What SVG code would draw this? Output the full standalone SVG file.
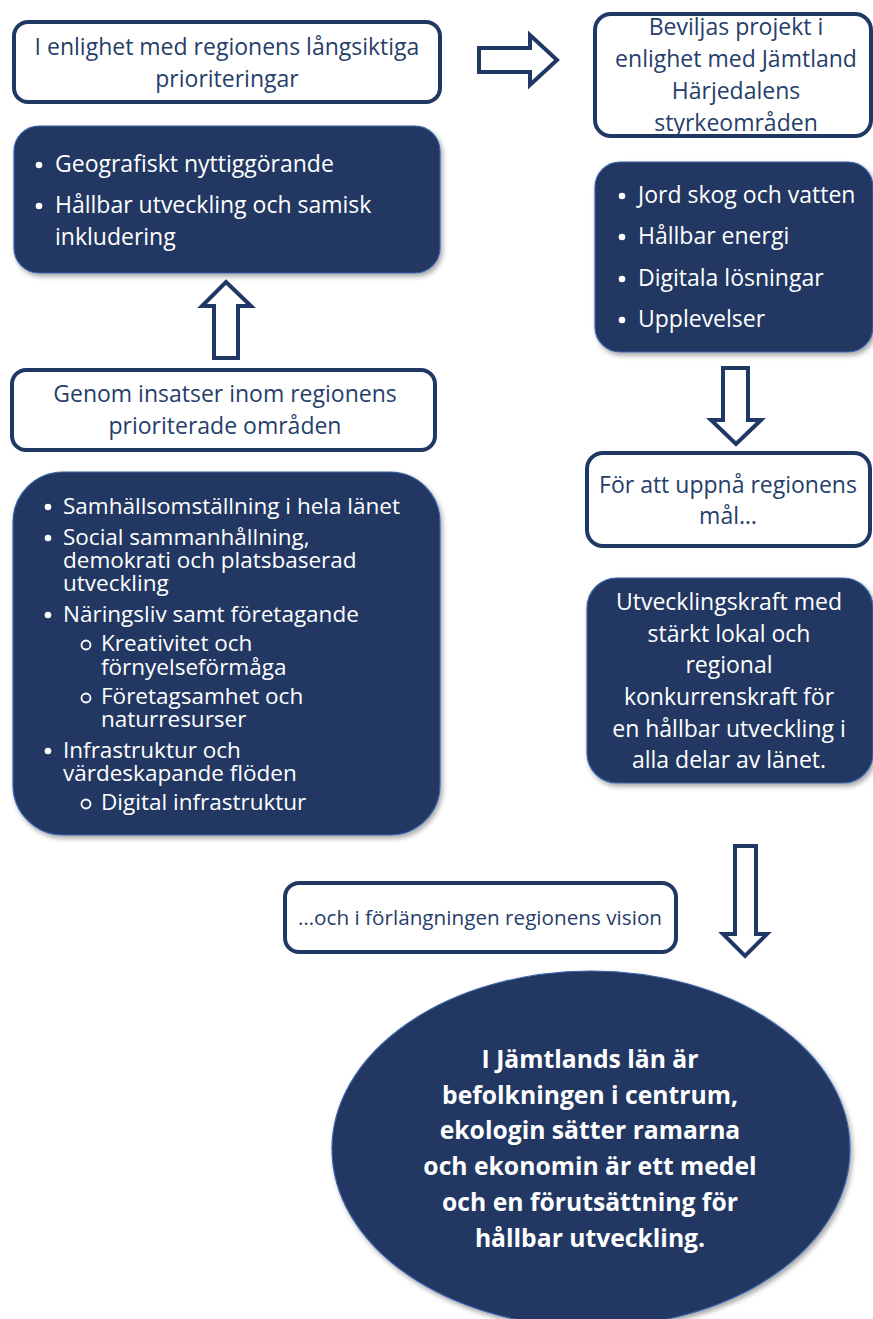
<svg xmlns="http://www.w3.org/2000/svg" width="873" height="1319" viewBox="0 0 873 1319">
<defs>
<filter id="sh" x="-10%" y="-10%" width="125%" height="125%">
<feDropShadow dx="2" dy="3" stdDeviation="2.5" flood-color="#000" flood-opacity="0.35"/>
</filter>
<style>
.wb{fill:#fff;stroke:#203864;stroke-width:4}
.db{fill:#203864;stroke:#3a63a8;stroke-width:1.2;filter:url(#sh)}
.ar{fill:#fff;stroke:#203864;stroke-width:4;stroke-linejoin:miter}
.tw{font-family:"Open Sans",Lato,sans-serif;font-size:23px;fill:#263e69}
.tl{font-family:"Open Sans",Lato,sans-serif;font-size:23px;fill:#fff}
.ts{font-size:22.5px}
.c{text-anchor:middle}
.tb{font-family:"Open Sans",Lato,sans-serif;font-size:24.7px;font-weight:bold;fill:#fff;text-anchor:middle}
.bu{fill:#fff}
.sb{fill:none;stroke:#fff;stroke-width:1.8}
</style>
</defs>
<g id="connectors">
<path class="ar" d="M479,48 H530 V35 L557,60 L530,85 V72 H479 Z"/>
<path class="ar" d="M226,282 L251,306 H238 V358 H214 V306 H202 Z"/>
<path class="ar" d="M723,368 H748 V420 H761 L736,444 L711,420 H723 Z"/>
<path class="ar" d="M735,846 H756 V934 H767 L745,956 L723,934 H735 Z"/>
</g>
<g id="n1">
<rect class="wb" x="14" y="22" width="426" height="80" rx="14"/>
<text class="tw c" x="227" y="55">I enlighet med regionens långsiktiga</text>
<text class="tw c" x="227" y="87">prioriteringar</text>
</g>
<g id="n2">
<rect class="db" x="14" y="126" width="426" height="147" rx="25"/>
<circle class="bu" cx="39" cy="165" r="3.3"/><text class="tl" x="55" y="172">Geografiskt nyttiggörande</text>
<circle class="bu" cx="39" cy="206" r="3.3"/><text class="tl" x="55" y="213">Hållbar utveckling och samisk</text>
<text class="tl" x="55" y="245">inkludering</text>
</g>
<g id="n3">
<rect class="wb" x="595" y="14" width="276" height="122" rx="16"/>
<text class="tw c" x="736" y="35">Beviljas projekt i</text>
<text class="tw c" x="736" y="67">enlighet med Jämtland</text>
<text class="tw c" x="736" y="99">Härjedalens</text>
<text class="tw c" x="736" y="131">styrkeområden</text>
</g>
<g id="n4">
<rect class="db" x="595" y="162" width="278" height="190" rx="25"/>
<circle class="bu" cx="622" cy="196" r="3.3"/><text class="tl" x="638" y="203">Jord skog och vatten</text>
<circle class="bu" cx="622" cy="237" r="3.3"/><text class="tl" x="638" y="244">Hållbar energi</text>
<circle class="bu" cx="622" cy="279" r="3.3"/><text class="tl" x="638" y="286">Digitala lösningar</text>
<circle class="bu" cx="622" cy="320" r="3.3"/><text class="tl" x="638" y="327">Upplevelser</text>
</g>
<g id="n5">
<rect class="wb" x="12" y="370" width="423" height="80" rx="14"/>
<text class="tw c" x="225" y="402">Genom insatser inom regionens</text>
<text class="tw c" x="225" y="434">prioriterade områden</text>
</g>
<g id="n6">
<rect class="db" x="13" y="472" width="427" height="363" rx="50"/>
<circle class="bu" cx="48" cy="507" r="3.3"/><text class="tl ts" x="63" y="514">Samhällsomställning i hela länet</text>
<circle class="bu" cx="48" cy="538" r="3.3"/><text class="tl ts" x="63" y="545">Social sammanhållning,</text>
<text class="tl ts" x="63" y="568">demokrati och platsbaserad</text>
<text class="tl ts" x="63" y="591">utveckling</text>
<circle class="bu" cx="48" cy="615" r="3.3"/><text class="tl ts" x="63" y="622">Näringsliv samt företagande</text>
<circle class="sb" cx="86" cy="645" r="4.5"/><text class="tl ts" x="101" y="651">Kreativitet och</text>
<text class="tl ts" x="101" y="675">förnyelseförmåga</text>
<circle class="sb" cx="86" cy="698" r="4.5"/><text class="tl ts" x="101" y="704">Företagsamhet och</text>
<text class="tl ts" x="101" y="727">naturresurser</text>
<circle class="bu" cx="48" cy="751" r="3.3"/><text class="tl ts" x="63" y="758">Infrastruktur och</text>
<text class="tl ts" x="63" y="781">värdeskapande flöden</text>
<circle class="sb" cx="86" cy="804" r="4.5"/><text class="tl ts" x="101" y="810">Digital infrastruktur</text>
</g>
<g id="n7">
<rect class="wb" x="587" y="453" width="283" height="93" rx="16"/>
<text class="tw c" x="728" y="493">För att uppnå regionens</text>
<text class="tw c" x="728" y="524">mål…</text>
</g>
<g id="n8">
<rect class="db" x="587" y="578" width="286" height="205" rx="30"/>
<text class="tl c" x="729" y="610">Utvecklingskraft med</text>
<text class="tl c" x="729" y="642">stärkt lokal och</text>
<text class="tl c" x="729" y="673">regional</text>
<text class="tl c" x="729" y="705">konkurrenskraft för</text>
<text class="tl c" x="729" y="737">en hållbar utveckling i</text>
<text class="tl c" x="729" y="768">alla delar av länet.</text>
</g>
<g id="n9">
<rect class="wb" x="285" y="883" width="391" height="69" rx="14"/>
<text class="tw c" x="480" y="925" style="font-size:20.7px">…och i förlängningen regionens vision</text>
</g>
<g id="n10">
<ellipse cx="591" cy="1149" rx="259" ry="178" fill="#203864" stroke="#3a63a8" stroke-width="1.2" filter="url(#sh)"/>
<text class="tb" x="590" y="1068">I Jämtlands län är</text>
<text class="tb" x="590" y="1104">befolkningen i centrum,</text>
<text class="tb" x="590" y="1139">ekologin sätter ramarna</text>
<text class="tb" x="590" y="1175">och ekonomin är ett medel</text>
<text class="tb" x="590" y="1211">och en förutsättning för</text>
<text class="tb" x="590" y="1247">hållbar utveckling.</text>
</g>
</svg>
